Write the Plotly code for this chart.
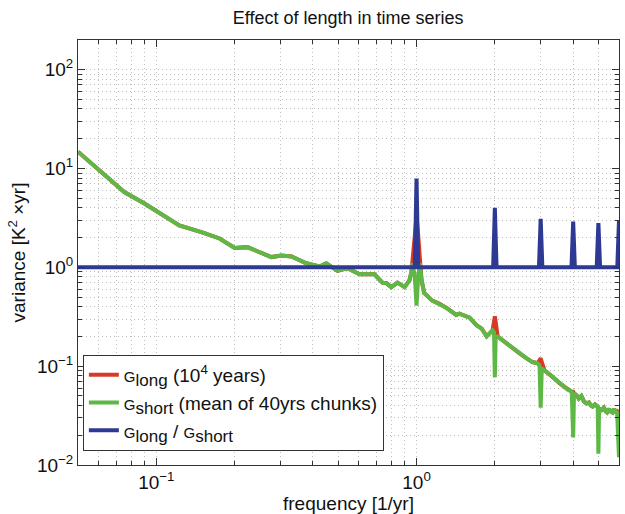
import math
import plotly.graph_objects as go

# Frequencies [1/yr] shared by G_long and G_short
freq = [0.05, 0.0753, 0.09, 0.1225, 0.15, 0.175, 0.2, 0.224, 0.277, 0.302, 0.331,
        0.377, 0.424, 0.45, 0.497, 0.543, 0.604, 0.689, 0.74, 0.767, 0.80, 0.845,
        0.90, 0.94, 0.956, 0.965, 0.985, 1.0, 1.015, 1.03, 1.045, 1.07, 1.15, 1.22, 1.30,
        1.42, 1.46, 1.6, 1.7, 1.78, 1.86, 1.96, 1.985, 2.0, 2.015, 2.05, 2.22, 2.35, 2.49,
        2.65, 2.79, 2.92, 2.97, 3.0, 3.03, 3.1, 3.2, 3.3, 3.45, 3.55, 3.7, 3.8, 3.87, 3.95,
        4.0, 4.03, 4.12, 4.2, 4.3, 4.4, 4.5, 4.6, 4.68, 4.75, 4.85, 4.97, 5.0, 5.03, 5.14,
        5.25, 5.33, 5.4, 5.5, 5.55, 5.67, 5.75, 5.8, 5.9, 6.0]

# G_short: mean of 40-yr chunks
g_short = [14.8, 5.77, 4.43, 2.66, 2.26, 1.96, 1.57, 1.6, 1.27, 1.32, 1.29,
           1.1, 1.02, 1.1, 0.92, 0.98, 0.85, 0.85, 0.70, 0.69, 0.63, 0.70,
           0.63, 0.74, 0.90, 1.1, 0.80, 0.41, 0.80, 1.1, 0.75, 0.55, 0.46, 0.43, 0.39,
           0.33, 0.34, 0.31, 0.26, 0.24, 0.20, 0.23, 0.22, 0.077, 0.20, 0.20, 0.17, 0.15, 0.135,
           0.12, 0.11, 0.107, 0.10, 0.038, 0.095, 0.091, 0.085, 0.08, 0.072, 0.067, 0.062, 0.058, 0.057, 0.055,
           0.019, 0.053, 0.051, 0.047, 0.050, 0.044, 0.042, 0.043, 0.040, 0.039, 0.041, 0.039, 0.013, 0.037, 0.036,
           0.038, 0.035, 0.034, 0.037, 0.035, 0.034, 0.037, 0.035, 0.034, 0.012]

# G_long: 10^4 years
g_long = [14.8, 5.77, 4.43, 2.66, 2.26, 1.96, 1.57, 1.6, 1.27, 1.32, 1.29,
          1.1, 1.02, 1.1, 0.92, 0.98, 0.85, 0.85, 0.70, 0.69, 0.63, 0.70,
          0.63, 0.74, 0.90, 1.25, 2.1, 3.2, 2.1, 1.25, 0.75, 0.55, 0.46, 0.43, 0.39,
          0.33, 0.34, 0.31, 0.26, 0.24, 0.20, 0.23, 0.283, 0.32, 0.28, 0.20, 0.17, 0.15, 0.135,
          0.12, 0.11, 0.107, 0.113, 0.12, 0.11, 0.091, 0.085, 0.08, 0.072, 0.067, 0.062, 0.058, 0.057, 0.055,
          0.055, 0.053, 0.051, 0.047, 0.050, 0.044, 0.042, 0.043, 0.040, 0.039, 0.041, 0.039, 0.037, 0.037, 0.036,
          0.038, 0.035, 0.034, 0.037, 0.035, 0.034, 0.037, 0.035, 0.034, 0.036]

# G_long / G_short
ratio_freq = [0.05, 0.985, 1.0, 1.015, 1.97, 2.0, 2.03, 2.955, 3.0, 3.045,
              3.94, 4.0, 4.06, 4.925, 5.0, 5.075, 5.91, 6.0]
ratio = [1.0, 1.0, 7.9, 1.0, 1.0, 4.0, 1.0, 1.0, 3.1, 1.0,
         1.0, 2.9, 1.0, 1.0, 2.8, 1.0, 1.0, 3.0]

x_major = [0.1, 1]
x_major_text = ["10<sup>\u22121</sup>", "10<sup>0</sup>"]
x_minor = [0.06, 0.07, 0.08, 0.09, 0.2, 0.3, 0.4, 0.5, 0.6, 0.7, 0.8, 0.9, 2, 3, 4, 5]
y_major = [0.01, 0.1, 1, 10, 100]
y_major_text = ["10<sup>\u22122</sup>", "10<sup>\u22121</sup>", "10<sup>0</sup>",
                "10<sup>1</sup>", "10<sup>2</sup>"]
y_minor = [m * d for d in (0.01, 0.1, 1, 10) for m in range(2, 10)] + [200]

RED = "#D63B2A"
GREEN = "#5DB845"
BLUE = "#2D3992"


def g_sub(s):
    return ("<span style='font-size:15px'>G</span>"
            "<sub><span style='font-size:17px'>" + s + "</span></sub>")


fig = go.Figure()
fig.add_trace(go.Scatter(x=freq, y=g_long, mode="lines",
                         line=dict(color=RED, width=4),
                         name=g_sub("long") + " (10<sup>4</sup> years)"))
fig.add_trace(go.Scatter(x=freq, y=g_short, mode="lines",
                         line=dict(color=GREEN, width=4),
                         name=g_sub("short") + " (mean of 40yrs chunks)"))
fig.add_trace(go.Scatter(x=ratio_freq, y=ratio, mode="lines",
                         line=dict(color=BLUE, width=4),
                         name=g_sub("long") + " / " + g_sub("short")))

FONT = "Liberation Sans, Arial, Helvetica, sans-serif"
GRID = "#bdbdbd"
DOT = "1px,3px"

fig.update_layout(
    width=625, height=514,
    margin=dict(l=78, r=6, t=40, b=49),
    paper_bgcolor="white", plot_bgcolor="white",
    font=dict(family=FONT, size=16, color="#111"),
    title=dict(text="Effect of length in time series", x=0.557, xanchor="center",
               y=0.965, yanchor="middle", font=dict(size=18)),
    showlegend=True,
    legend=dict(x=0.009, y=0.259, xanchor="left", yanchor="top",
                bordercolor="#333", borderwidth=1, bgcolor="white",
                font=dict(size=19), tracegroupgap=0),
)

fig.update_xaxes(
    type="log", range=[math.log10(0.05), math.log10(6.0)],
    tickmode="array", tickvals=x_major, ticktext=x_major_text,
    ticks="inside", ticklen=7, tickcolor="#333",
    showline=True, linecolor="#333", linewidth=1, mirror="ticks",
    showgrid=True, gridcolor=GRID, griddash=DOT, gridwidth=1,
    tickfont=dict(size=19),
    title=dict(text="frequency [1/yr]", font=dict(size=19), standoff=2),
    minor=dict(tickmode="array", tickvals=x_minor, ticks="inside", ticklen=4,
               tickcolor="#333", showgrid=True, gridcolor=GRID, griddash=DOT),
)
fig.update_yaxes(
    type="log", range=[-2, 2.3],
    tickmode="array", tickvals=y_major, ticktext=y_major_text,
    ticks="inside", ticklen=7, tickcolor="#333",
    showline=True, linecolor="#333", linewidth=1, mirror="ticks",
    showgrid=True, gridcolor=GRID, griddash=DOT, gridwidth=1,
    tickfont=dict(size=19),
    title=dict(text="variance [K<sup>2</sup> \u00d7yr]", font=dict(size=19), standoff=6),
    minor=dict(tickmode="array", tickvals=y_minor, ticks="inside", ticklen=4,
               tickcolor="#333", showgrid=True, gridcolor=GRID, griddash=DOT),
)

fig.write_html("out.html")
